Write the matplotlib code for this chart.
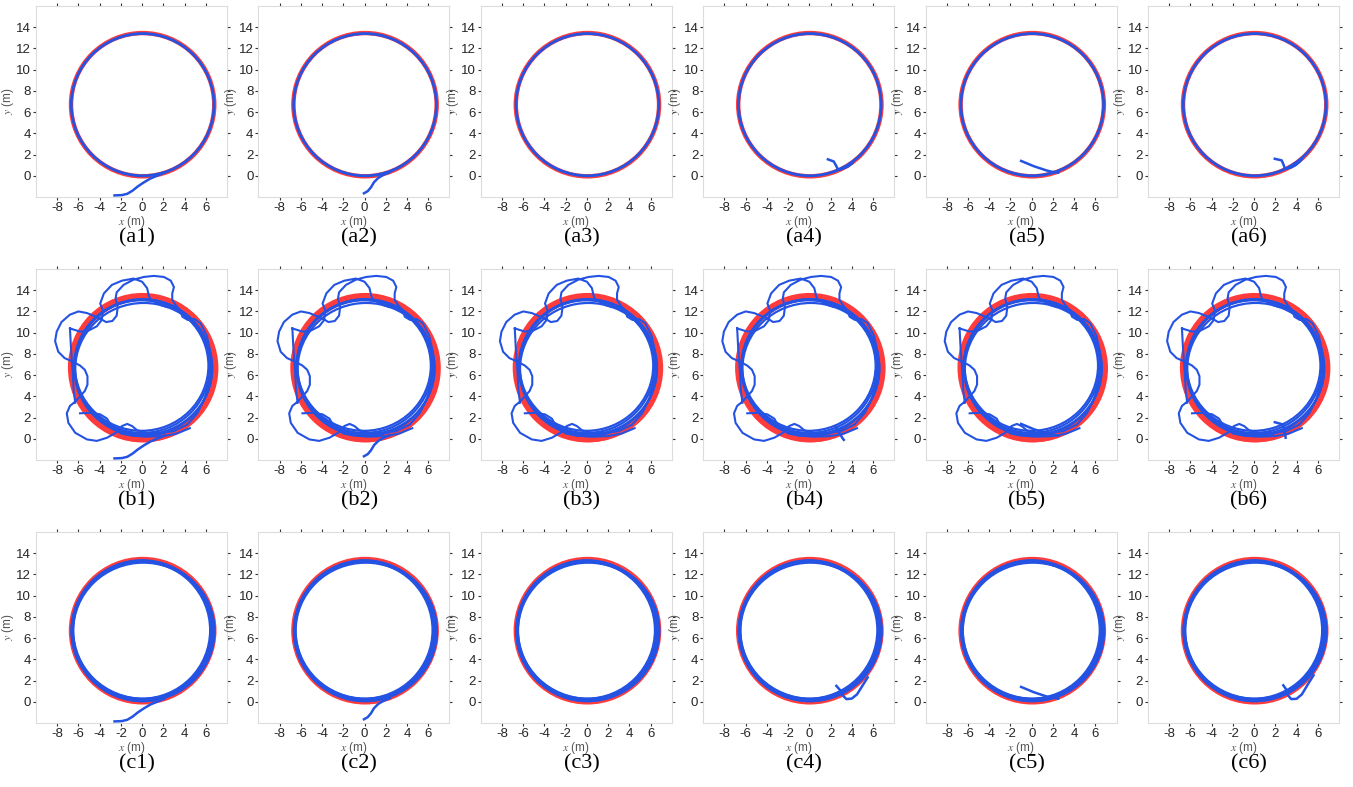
import numpy as np
import matplotlib.pyplot as plt
from matplotlib.patches import Ellipse

plt.rcParams['font.family'] = ['Liberation Sans', 'DejaVu Sans']
plt.rcParams['mathtext.fontset'] = 'stix'
plt.rcParams['axes.unicode_minus'] = False

RED = '#ff3c3c'
BLUE = '#2453e4'

# reference circle (center x, center y, diameter)
ref_cx, ref_cy, ref_d = 0.05, 6.7, 13.5

# tracked rings per row: centre x, centre y, width, height
a_ring_cx = [0.05]
a_ring_cy = [6.7]
a_ring_w = [13.45]
a_ring_h = [13.4]

b_ring_cx = [0.0, 0.1, -0.05, 0.15]
b_ring_cy = [6.85, 6.7, 6.9, 6.6]
b_ring_w = [12.8, 13.0, 12.6, 12.9]
b_ring_h = [12.6, 12.9, 12.3, 12.4]

c_ring_cx = [0.0, 0.08, -0.05, 0.12]
c_ring_cy = [6.7, 6.65, 6.75, 6.7]
c_ring_w = [13.2, 13.4, 13.0, 13.3]
c_ring_h = [13.2, 13.1, 13.0, 12.9]

# start / transient segments
s1_x = [-2.6, -1.9, -1.4, -0.9, -0.4, 0.2, 0.8, 1.4, 2.1]
s1_y = [-1.85, -1.82, -1.7, -1.4, -1.0, -0.6, -0.25, 0.0, 0.3]
s2_x = [-0.05, 0.3, 0.6, 0.9, 1.3, 1.8, 2.4]
s2_y = [-1.65, -1.45, -1.1, -0.6, -0.2, 0.1, 0.35]
s4_x = [1.75, 2.3, 2.5, 2.7, 3.1, 3.6, 4.0, np.nan, 2.7, 3.2, 3.7, 4.1]
s4_y = [1.55, 1.35, 1.0, 0.6, 0.65, 0.85, 1.15, np.nan, 0.55, 0.75, 0.95, 1.3]
s5_x = [-1.0, -0.4, 0.2, 0.8, 1.4, 1.9, 2.5]
s5_y = [1.4, 1.15, 0.9, 0.7, 0.5, 0.38, 0.3]
s6_x = [1.95, 2.6, 2.75, 2.9, 3.4, 3.9, 4.3, np.nan, 2.9, 3.4, 3.9, 4.5]
s6_y = [1.6, 1.45, 1.1, 0.7, 0.75, 1.0, 1.35, np.nan, 0.65, 0.8, 1.05, 1.55]
c4_x = [2.55, 2.9, 3.2, 3.5, 4.0, 4.5, 5.0, 5.5]
c4_y = [1.5, 1.1, 0.55, 0.25, 0.3, 0.7, 1.5, 2.3]
c6_x = [2.75, 3.0, 3.2, 3.5, 4.0, 4.5, 5.1, 5.6]
c6_y = [1.55, 1.2, 0.6, 0.25, 0.28, 0.7, 1.7, 2.5]
b4_x = [2.5, 2.8, 3.1, 3.25]
b4_y = [1.1, 0.6, 0.1, -0.1]
b6_x = [1.95, 2.75, 2.85, 2.97]
b6_y = [1.56, 1.34, 0.7, 0.1]

# looping trajectory of row b (segments split by nan)
b_loop_x = [-3.9, -4.6, -5.2, -6.0, -6.8, -7.6, -8.05, -8.2, -7.9, -7.3, -6.6, -5.85,
            -5.4, -5.15, -5.15, -5.4, -5.85, -6.3, -6.8, -7.1, -6.95, -6.3, -5.2, -4.27,
            -3.3, -2.5, -1.9, -1.4, -0.95, -0.47, 0.47, 1.74, 3.0, 4.27, 5.2, 5.85, 6.3,
            6.45, 6.4, 6.1, 5.5, 4.9, 4.3, 3.8, 3.6, 3.16, 2.84, 2.84, 3.0, 2.7, 2.05,
            1.1, 0.16, -0.8, -1.75, -2.4, -2.5, -2.3, -2.4, -2.8, -3.4, -3.9, np.nan,
            -6.8, -5.85, -5.05, -4.27, -3.8, -3.7, -3.95, -3.6, -2.85, -1.9, -0.8, 0.0,
            0.47, 0.63, 0.8, 1.26, 1.74, 2.37, 3.0, 3.6, 4.2, 4.8, 5.4, np.nan,
            -6.8, -6.7, -6.55, -6.45, -6.3, np.nan,
            -5.85, -4.9, -3.95, -3.3, -3.0, -2.7, -2.0, -1.0, 0.5, 2.0, 3.3, 4.5]
b_loop_y = [11.3, 11.6, 11.85, 12.0, 11.7, 11.0, 10.1, 9.2, 8.2, 7.6, 7.3, 6.9,
            6.5, 5.9, 5.1, 4.5, 4.0, 3.5, 3.1, 2.4, 1.5, 0.56, -0.06, -0.2,
            0.1, 0.56, 1.2, 1.4, 1.2, 0.8, 0.56, 0.56, 0.72, 1.34, 2.4, 3.7, 5.25,
            6.8, 8.3, 9.7, 10.9, 11.3, 11.2, 11.5, 12.1, 12.6, 13.1, 13.7, 14.3, 14.9, 15.25,
            15.35, 15.25, 15.0, 14.5, 13.8, 13.2, 12.4, 11.6, 11.1, 11.0, 11.3, np.nan,
            10.4, 10.1, 10.2, 10.6, 11.2, 12.1, 12.75, 13.7, 14.5, 14.9, 15.1, 14.8,
            14.2, 13.5, 13.1, 12.9, 12.6, 12.4, 12.5, 12.1, 11.5, 10.9, 10.2, np.nan,
            10.4, 8.5, 6.5, 4.5, 3.4, np.nan,
            2.4, 2.45, 2.3, 1.9, 1.35, 1.0, 0.5, 0.3, 0.2, 0.25, 0.5, 1.0]

extras = {
    ('a', 1): [(s1_x, s1_y)], ('a', 2): [(s2_x, s2_y)], ('a', 3): [],
    ('a', 4): [(s4_x, s4_y)], ('a', 5): [(s5_x, s5_y)], ('a', 6): [(s6_x, s6_y)],
    ('b', 1): [(s1_x, s1_y)], ('b', 2): [(s2_x, s2_y)], ('b', 3): [],
    ('b', 4): [(b4_x, b4_y)], ('b', 5): [(s5_x, s5_y)], ('b', 6): [(b6_x, b6_y)],
    ('c', 1): [(s1_x, s1_y)], ('c', 2): [(s2_x, s2_y)], ('c', 3): [],
    ('c', 4): [(c4_x, c4_y)], ('c', 5): [(s5_x, s5_y)], ('c', 6): [(c6_x, c6_y)],
}
rings = {
    'a': (a_ring_cx, a_ring_cy, a_ring_w, a_ring_h),
    'b': (b_ring_cx, b_ring_cy, b_ring_w, b_ring_h),
    'c': (c_ring_cx, c_ring_cy, c_ring_w, c_ring_h),
}
ref_lw = {'a': 3.2, 'b': 4.5, 'c': 3.2}
ring_lw = {'a': 2.0, 'b': 1.6, 'c': 2.2}

xticks = [-8, -6, -4, -2, 0, 2, 4, 6]
yticks = [0, 2, 4, 6, 8, 10, 12, 14]

W, H = 1353, 787
fig = plt.figure(figsize=(W / 100, H / 100), dpi=100)

for r, row in enumerate(['a', 'b', 'c']):
    for c in range(6):
        left = 36 + 222.4 * c
        top = 6 + 263 * r
        ax = fig.add_axes([left / W, 1 - (top + 191) / H, 191 / W, 191 / H])
        ax.set_xlim(-10, 8)
        ax.set_ylim(-2, 16)

        ax.add_patch(Ellipse((ref_cx, ref_cy), ref_d, ref_d, fill=False,
                             ec=RED, lw=ref_lw[row], zorder=2))
        if row == 'b':
            ax.add_patch(Ellipse((ref_cx + 0.12, ref_cy - 0.05), ref_d - 0.05, ref_d - 0.15,
                                 fill=False, ec=RED, lw=ref_lw[row], zorder=2))
        cx, cy, ww, hh = rings[row]
        for i in range(len(cx)):
            ax.add_patch(Ellipse((cx[i], cy[i]), ww[i], hh[i], fill=False,
                                 ec=BLUE, lw=ring_lw[row], zorder=3))
        if row == 'b':
            ax.plot(b_loop_x, b_loop_y, color=BLUE, lw=1.5, zorder=4)
        for sx, sy in extras[(row, c + 1)]:
            ax.plot(sx, sy, color=BLUE, lw=1.8, zorder=4)

        ax.set_xticks(xticks)
        ax.set_yticks(yticks)
        ax.tick_params(direction='out', top=True, right=True, length=2.5, width=0.8,
                       color='#333333', labelsize=9.5, labelcolor='#262626', pad=1)
        for sp in ax.spines.values():
            sp.set_color('#dcdcdc')
            sp.set_linewidth(0.8)
        ax.set_xlabel('$x$ (m)', fontsize=8.5, color='#555555', labelpad=0)
        ax.set_ylabel('$y$ (m)', fontsize=8.5, color='#555555', labelpad=0)

        fig.text((left + 101) / W, 1 - (238 + 263 * r) / H, '(%s%d)' % (row, c + 1),
                 ha='center', va='center', fontsize=16, family='Liberation Serif')

fig.savefig('out.png', dpi=100)
